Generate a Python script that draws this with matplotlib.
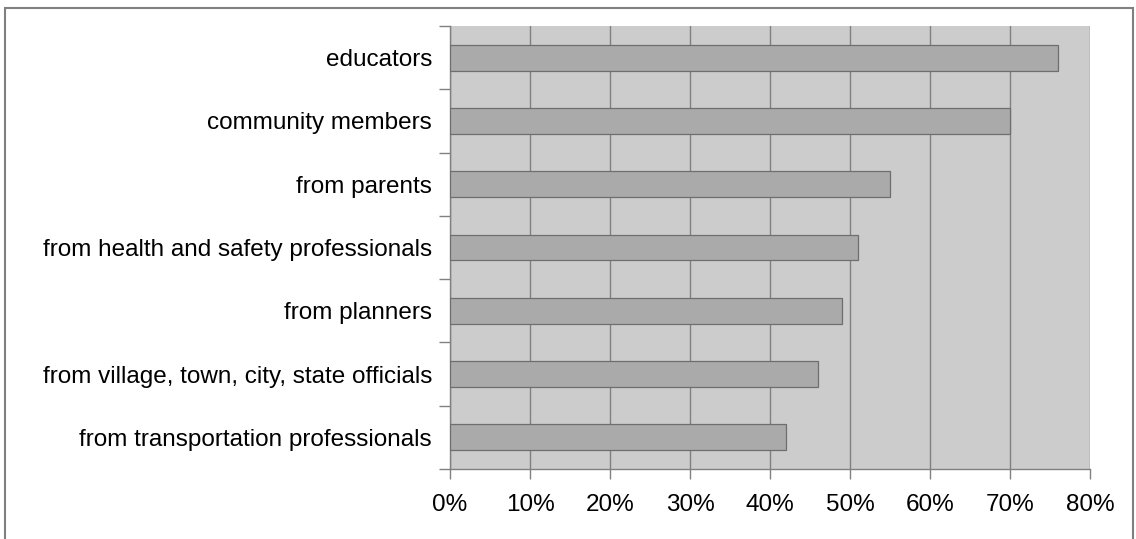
import matplotlib
matplotlib.use("Agg")
import matplotlib.pyplot as plt
from matplotlib.patches import Rectangle
from matplotlib.ticker import FuncFormatter
import numpy as np

categories = [
    "educators",
    "community members",
    "from parents",
    "from health and safety professionals",
    "from planners",
    "from village, town, city, state officials",
    "from transportation professionals",
]
values = [76, 70, 55, 51, 49, 46, 42]
xticks = [0, 10, 20, 30, 40, 50, 60, 70, 80]

plt.rcParams['font.family'] = ['Liberation Sans', 'DejaVu Sans']

W, H = 1136, 539
fig = plt.figure(figsize=(W / 100, H / 100), dpi=100)
fig.patch.set_facecolor("white")

# outer frame
frame = Rectangle((5 / W, -0.05), (1133 - 5) / W, 1 - 8 / H + 0.05,
                  transform=fig.transFigure, fill=False,
                  edgecolor="#808080", linewidth=1.5)
fig.patches.append(frame)

ax = fig.add_axes([450 / W, 1 - 469 / H, (1090 - 450) / W, (469 - 26) / H])
ax.set_facecolor("#cccccc")

n = len(categories)
y = np.arange(n)
ax.barh(y, values, height=0.41, color="#aaaaaa", edgecolor="#6e6e6e",
        linewidth=0.9, zorder=3)
ax.set_ylim(n - 0.5, -0.5)
ax.set_xlim(0, 80)

ax.set_xticks(xticks)
ax.xaxis.set_major_formatter(FuncFormatter(lambda v, p: f"{int(v)}%"))
ax.grid(axis="x", color="#808080", linewidth=1.0, zorder=1)
ax.set_axisbelow(True)

ax.set_yticks(y)
ax.set_yticklabels(categories)
ax.set_yticks(np.arange(n + 1) - 0.5, minor=True)
ax.tick_params(axis="y", which="major", length=0, pad=13, labelsize=17.5)
ax.tick_params(axis="y", which="minor", length=8, color="#808080", width=1)
ax.tick_params(axis="x", length=7, color="#808080", width=1, labelsize=17.5, pad=11)

for side in ["top", "right"]:
    ax.spines[side].set_visible(False)
ax.spines["left"].set_color("#808080")
ax.spines["bottom"].set_color("#808080")
ax.spines["left"].set_linewidth(1)
ax.spines["bottom"].set_linewidth(1)

fig.savefig("out.png", dpi=100)
